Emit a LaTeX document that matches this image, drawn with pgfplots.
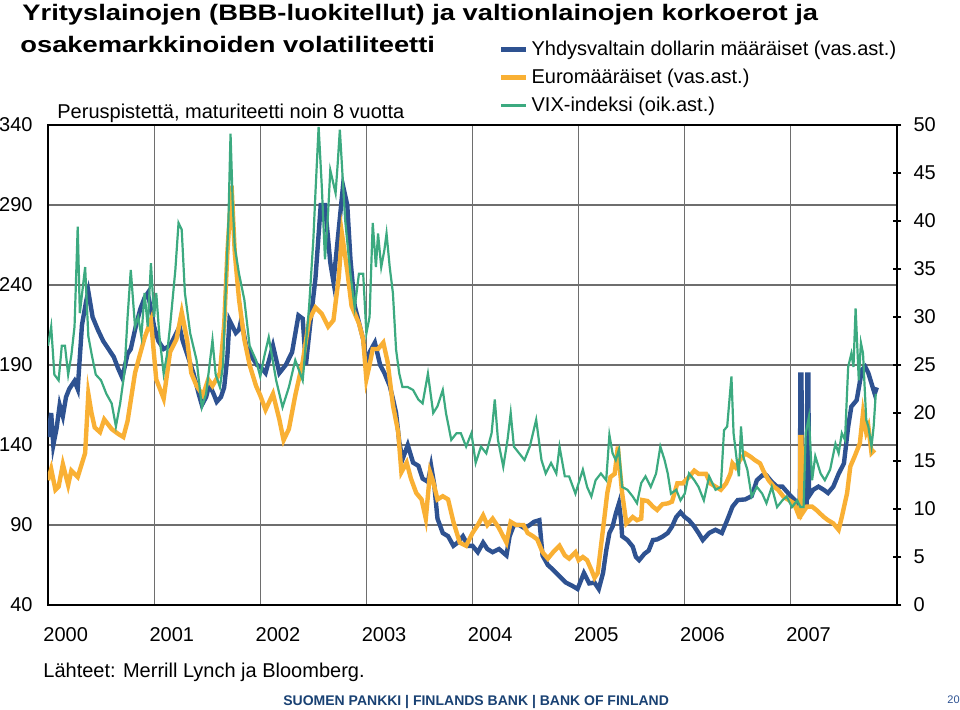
\documentclass[border=0pt]{standalone}
\usepackage{fontspec}
\setmainfont{Liberation Sans}
\newfontfamily\titlefont{Liberation Sans}[FakeStretch=1.22]
\usepackage{pgfplots}
\pgfplotsset{compat=1.18}
\definecolor{usd}{RGB}{46,82,145}
\definecolor{eur}{RGB}{249,176,52}
\definecolor{vix}{RGB}{60,170,128}
\definecolor{gridgray}{RGB}{110,110,110}
\definecolor{footblue}{RGB}{25,65,115}
\begin{document}
\begin{tikzpicture}
\useasboundingbox (0,0) rectangle (480pt,354.5pt);
\begin{axis}[
  at={(24pt,52pt)}, anchor=south west, scale only axis,
  width=424.5pt, height=240pt,
  xmin=2000, xmax=2008, ymin=40, ymax=340,
  axis line style={line width=0.75pt},
  xtick={2000,2001,2002,2003,2004,2005,2006,2007},
  xticklabels={2000,2001,2002,2003,2004,2005,2006,2007},
  ytick={40,90,140,190,240,290,340},
  xmajorgrids, ymajorgrids,
  grid style={gridgray, line width=0.6pt},
  tick style={draw=none},
  ticklabel style={font=\fontsize{10}{12}\selectfont},
  /pgf/number format/assume math mode=true,
  xticklabel style={anchor=north west, xshift=-5.8pt, yshift=-7.5pt},
  yticklabel style={anchor=east, xshift=-4.2pt},
  clip=true,
]
\addplot[usd, line width=2.2pt] coordinates {
(2000.00,145)(2000.03,160)(2000.05,140)(2000.08,150)(2000.11,165)(2000.14,158)(2000.17,170)(2000.20,175)(2000.25,180)(2000.28,175)(2000.32,215)(2000.36,230)(2000.38,236)(2000.42,220)(2000.47,212)(2000.52,205)(2000.57,200)(2000.62,195)(2000.66,188)(2000.70,182)(2000.75,197)(2000.78,200)(2000.83,215)(2000.87,225)(2000.91,232)(2000.94,235)(2000.97,225)(2001.00,214)(2001.04,205)(2001.09,200)(2001.15,202)(2001.21,210)(2001.24,214)(2001.27,205)(2001.32,195)(2001.37,185)(2001.42,172)(2001.45,165)(2001.49,170)(2001.52,178)(2001.56,172)(2001.59,167)(2001.63,170)(2001.66,176)(2001.69,195)(2001.71,218)(2001.74,214)(2001.77,210)(2001.80,212)(2001.82,218)(2001.85,208)(2001.87,201)(2001.90,198)(2001.93,194)(2001.97,190)(2002.00,189)(2002.05,185)(2002.12,202)(2002.18,185)(2002.24,190)(2002.30,198)(2002.36,221)(2002.40,219)(2002.43,190)(2002.47,215)(2002.52,244)(2002.57,290)(2002.61,290)(2002.66,254)(2002.69,242)(2002.74,275)(2002.78,302)(2002.82,290)(2002.85,256)(2002.89,227)(2002.94,214)(2002.97,206)(2003.00,190)(2003.03,198)(2003.08,204)(2003.13,190)(2003.17,185)(2003.22,177)(2003.25,169)(2003.28,160)(2003.31,142)(2003.34,131)(2003.39,140)(2003.44,129)(2003.49,127)(2003.53,119)(2003.58,117)(2003.61,127)(2003.64,115)(2003.67,94)(2003.72,85)(2003.77,83)(2003.82,77)(2003.86,79)(2003.91,83)(2003.96,77)(2004.00,77)(2004.05,73)(2004.10,79)(2004.14,75)(2004.19,73)(2004.25,75)(2004.32,71)(2004.35,83)(2004.39,90)(2004.44,90)(2004.49,88)(2004.54,90)(2004.58,92)(2004.63,93)(2004.66,71)(2004.71,65)(2004.76,62)(2004.82,58)(2004.88,54)(2004.94,52)(2004.99,50)(2005.05,60)(2005.10,53.5)(2005.15,54)(2005.19,50)(2005.23,60)(2005.26,74)(2005.29,85)(2005.32,89)(2005.35,97)(2005.38,103.5)(2005.40,93)(2005.41,83)(2005.46,80.6)(2005.51,76.5)(2005.54,70)(2005.57,68)(2005.62,72)(2005.66,74)(2005.70,80.6)(2005.74,81)(2005.79,82.7)(2005.84,85)(2005.88,89)(2005.92,95)(2005.96,98)(2006.00,95)(2006.04,93)(2006.09,89)(2006.13,85)(2006.17,80.6)(2006.23,85)(2006.29,87)(2006.35,85)(2006.40,93)(2006.45,101.5)(2006.50,105.6)(2006.57,106)(2006.63,108)(2006.68,118)(2006.73,121)(2006.77,121)(2006.82,117)(2006.87,114)(2006.92,114)(2006.96,111)(2007.00,108)(2007.07,103.5)(2007.085,104)(2007.09,184)(2007.10,184)(2007.105,104)(2007.12,104)(2007.15,104)(2007.155,184)(2007.165,184)(2007.17,108)(2007.21,112)(2007.26,114)(2007.31,112)(2007.35,110)(2007.40,114)(2007.45,122)(2007.50,128.5)(2007.54,151.5)(2007.57,164)(2007.62,168)(2007.67,187)(2007.70,189)(2007.73,185)(2007.76,178.5)(2007.79,172)(2007.81,176)
};
\addplot[eur, line width=2.2pt] coordinates {
(2000.00,118)(2000.03,125)(2000.07,112)(2000.10,114)(2000.14,128)(2000.19,115)(2000.22,124)(2000.28,120)(2000.35,135)(2000.38,172)(2000.41,160)(2000.44,151)(2000.49,148)(2000.53,156)(2000.60,150)(2000.66,147)(2000.71,145)(2000.75,155)(2000.82,185)(2000.86,195)(2000.91,207)(2000.97,218)(2001.02,181)(2001.09,169)(2001.15,198)(2001.21,206)(2001.26,223)(2001.31,206)(2001.35,185)(2001.40,177)(2001.46,171)(2001.51,181)(2001.55,177)(2001.62,185)(2001.66,215)(2001.69,260)(2001.73,302)(2001.76,260)(2001.80,231)(2001.85,206)(2001.90,190)(2001.96,177)(2002.00,171)(2002.05,162)(2002.12,172)(2002.18,156)(2002.22,143)(2002.27,150)(2002.33,171)(2002.40,192)(2002.46,218)(2002.52,226)(2002.58,222)(2002.64,214)(2002.69,218)(2002.74,245)(2002.77,272)(2002.82,249)(2002.86,227)(2002.93,216)(2002.97,206)(2003.00,181)(2003.03,190)(2003.06,200)(2003.11,200)(2003.16,204)(2003.20,192)(2003.25,165)(2003.30,148)(2003.33,123)(2003.38,129)(2003.42,119)(2003.47,110)(2003.52,106)(2003.56,94)(2003.60,123)(2003.63,117)(2003.67,106)(2003.72,108)(2003.77,106)(2003.82,92)(2003.88,79)(2003.94,77)(2004.00,85)(2004.05,90)(2004.10,96)(2004.14,90)(2004.19,94)(2004.25,88)(2004.32,79)(2004.36,92)(2004.41,90)(2004.48,90)(2004.52,85)(2004.57,83)(2004.61,81)(2004.66,73)(2004.71,69)(2004.76,73)(2004.82,77)(2004.87,71)(2004.91,69)(2004.97,73)(2005.00,68)(2005.04,70)(2005.08,68)(2005.12,62)(2005.15,57)(2005.18,60)(2005.21,76.5)(2005.24,93)(2005.27,110)(2005.30,120)(2005.34,122)(2005.37,139)(2005.38,131)(2005.41,110)(2005.45,91)(2005.48,93)(2005.51,95)(2005.55,93)(2005.59,94)(2005.60,105.6)(2005.65,105)(2005.70,101.5)(2005.74,99.4)(2005.79,103)(2005.84,103.5)(2005.88,104.6)(2005.93,116)(2005.98,116)(2006.04,120)(2006.09,124)(2006.13,122)(2006.20,122)(2006.24,116)(2006.29,114)(2006.34,112)(2006.39,116)(2006.43,122)(2006.45,128.5)(2006.48,126)(2006.52,130.6)(2006.57,134.8)(2006.62,132.7)(2006.66,130.6)(2006.71,128.5)(2006.74,124)(2006.79,118)(2006.84,114)(2006.88,112)(2006.93,107.7)(2006.98,105.6)(2007.03,103.5)(2007.08,95)(2007.085,95)(2007.09,145)(2007.10,145)(2007.105,97)(2007.15,101.5)(2007.20,101.5)(2007.24,99.4)(2007.31,95)(2007.35,93)(2007.40,91)(2007.45,87)(2007.48,95)(2007.53,110)(2007.56,126.5)(2007.60,132.7)(2007.65,141)(2007.68,160)(2007.71,148)(2007.73,151.5)(2007.76,135)(2007.79,137)
};
\end{axis}
\begin{axis}[
  at={(24pt,52pt)}, anchor=south west, scale only axis,
  width=424.5pt, height=240pt,
  xmin=2000, xmax=2008, ymin=0, ymax=50,
  axis x line=none, axis y line*=right,
  axis line style={line width=0.75pt},
  ytick={0,5,...,50},
  tick style={black, line width=0.75pt},
  major tick length=4.5pt, tick align=center,
  ticklabel style={font=\fontsize{10}{12}\selectfont},
  /pgf/number format/assume math mode=true,
  yticklabel style={anchor=west, xshift=2.5pt},
  legend style={at={(rel axis cs:0.531,1.183)}, anchor=north west, draw=none, fill=none,
    font=\fontsize{10}{12}\selectfont, row sep=2.3pt, inner sep=0pt, nodes={inner sep=1.5pt}},
  legend cell align=left,
  legend image code/.code={\draw[#1] (0pt,0pt) -- (12.5pt,0pt);},
]
\addlegendimage{usd, line width=2.2pt}
\addlegendentry{Yhdysvaltain dollarin määräiset (vas.ast.)}
\addlegendimage{eur, line width=2.2pt}
\addlegendentry{Euromääräiset (vas.ast.)}
\addplot[vix, line width=1.1pt] coordinates {
(2000.00,27)(2000.03,29)(2000.06,24)(2000.10,23.4)(2000.13,27)(2000.16,27)(2000.19,24)(2000.22,26)(2000.25,29)(2000.28,39.4)(2000.30,30.4)(2000.35,35.2)(2000.38,28)(2000.41,26.2)(2000.45,24)(2000.50,23.4)(2000.55,22)(2000.60,21)(2000.64,18.6)(2000.68,21)(2000.72,24.2)(2000.75,30)(2000.78,34.9)(2000.82,29)(2000.85,30)(2000.88,28)(2000.91,32.5)(2000.94,29)(2000.97,35.6)(2001.00,30)(2001.02,32.5)(2001.05,28)(2001.09,24.1)(2001.12,26)(2001.15,29)(2001.20,34.9)(2001.23,39.8)(2001.26,39.1)(2001.29,32.5)(2001.34,28.3)(2001.40,25.5)(2001.45,20.6)(2001.49,22)(2001.55,27.6)(2001.58,24)(2001.62,22.7)(2001.65,25)(2001.68,34.5)(2001.70,40)(2001.72,49.1)(2001.74,42)(2001.76,37.3)(2001.80,34.5)(2001.85,31.8)(2001.90,27)(2001.96,25.5)(2002.00,23.8)(2002.04,26)(2002.08,27.9)(2002.15,23.4)(2002.21,20.6)(2002.27,22.7)(2002.33,25.5)(2002.40,23.4)(2002.46,31)(2002.50,38)(2002.52,42.9)(2002.55,49.8)(2002.58,43.6)(2002.61,36)(2002.64,41)(2002.66,45.3)(2002.71,42.9)(2002.73,46)(2002.75,49.5)(2002.80,40.1)(2002.85,34.5)(2002.89,31)(2002.93,34.5)(2002.97,34.5)(2003.00,28.3)(2003.03,30)(2003.06,39.8)(2003.09,35.2)(2003.11,38.7)(2003.14,35.2)(2003.17,37)(2003.19,38.7)(2003.22,35.2)(2003.25,32.5)(2003.28,26.6)(2003.31,24.1)(2003.34,22.7)(2003.39,22.7)(2003.44,22.4)(2003.49,21.4)(2003.53,21)(2003.58,24.1)(2003.63,20)(2003.67,20.7)(2003.72,22.4)(2003.75,20)(2003.80,17.2)(2003.85,17.9)(2003.89,17.9)(2003.94,16.5)(2003.99,17.9)(2004.03,14.8)(2004.08,16.5)(2004.13,15.8)(2004.18,17.9)(2004.21,21.4)(2004.24,17.2)(2004.29,14.4)(2004.33,17.2)(2004.36,20)(2004.39,16.5)(2004.44,15.8)(2004.49,15.1)(2004.54,16.5)(2004.60,19.3)(2004.65,15.1)(2004.69,13.7)(2004.74,14.8)(2004.79,13.7)(2004.82,16.5)(2004.87,13.4)(2004.91,13.4)(2004.97,11.6)(2005.00,12.7)(2005.04,14.1)(2005.08,12.3)(2005.12,11.3)(2005.16,13)(2005.21,13.7)(2005.26,13)(2005.29,17.7)(2005.32,15.8)(2005.35,15.1)(2005.38,16.2)(2005.41,12.3)(2005.46,12)(2005.51,11.3)(2005.55,10.6)(2005.59,12.7)(2005.63,13.4)(2005.68,12.3)(2005.73,13.7)(2005.77,16.5)(2005.81,15.1)(2005.84,13.7)(2005.87,11.6)(2005.92,12)(2005.96,10.9)(2006.00,11.6)(2006.04,13.7)(2006.09,13)(2006.13,12.3)(2006.18,10.9)(2006.23,13.4)(2006.29,12)(2006.34,12.3)(2006.37,18.2)(2006.40,18.6)(2006.44,23.8)(2006.46,17.9)(2006.49,15.1)(2006.51,13.4)(2006.53,18.6)(2006.55,15.5)(2006.59,14.1)(2006.63,11.3)(2006.68,12.3)(2006.73,11.6)(2006.77,10.6)(2006.82,12.3)(2006.87,10.2)(2006.92,10.9)(2006.96,11.3)(2007.01,10.2)(2007.06,10.9)(2007.09,10.2)(2007.12,10.2)(2007.14,17.9)(2007.17,19.6)(2007.20,13)(2007.23,15.5)(2007.28,13.7)(2007.32,13)(2007.37,14.1)(2007.42,16.8)(2007.45,15.8)(2007.48,17.9)(2007.51,17.2)(2007.54,24.8)(2007.57,26.2)(2007.59,24.8)(2007.61,30.9)(2007.64,23.4)(2007.66,27.3)(2007.68,26.2)(2007.71,19.3)(2007.73,18.6)(2007.76,16.5)(2007.78,18.6)(2007.80,22)
};
\addlegendentry{VIX-indeksi (oik.ast.)}
\end{axis}
\node[anchor=base west, inner sep=0pt] at (11pt,344.5pt) {\titlefont\bfseries\fontsize{11.2}{13}\selectfont Yrityslainojen (BBB-luokitellut) ja valtionlainojen korkoerot ja};
\node[anchor=base west, inner sep=0pt] at (10pt,328pt) {\titlefont\bfseries\fontsize{11.2}{13}\selectfont osakemarkkinoiden volatiliteetti};
\node[anchor=base west, inner sep=0pt] at (28.5pt,295pt) {\fontsize{10}{12}\selectfont Peruspistettä, maturiteetti noin 8 vuotta};
\node[anchor=base west, inner sep=0pt] at (21.5pt,16pt) {\fontsize{10}{12}\selectfont Lähteet: Merrill Lynch ja Bloomberg.};
\node[anchor=base west, inner sep=0pt, text=footblue] at (141.5pt,2pt) {\bfseries\fontsize{7}{8}\selectfont SUOMEN PANKKI | FINLANDS BANK | BANK OF FINLAND};
\node[anchor=base west, inner sep=0pt, text=usd] at (473.5pt,3pt) {\fontsize{5.5}{6}\selectfont 20};
\end{tikzpicture}
\end{document}
